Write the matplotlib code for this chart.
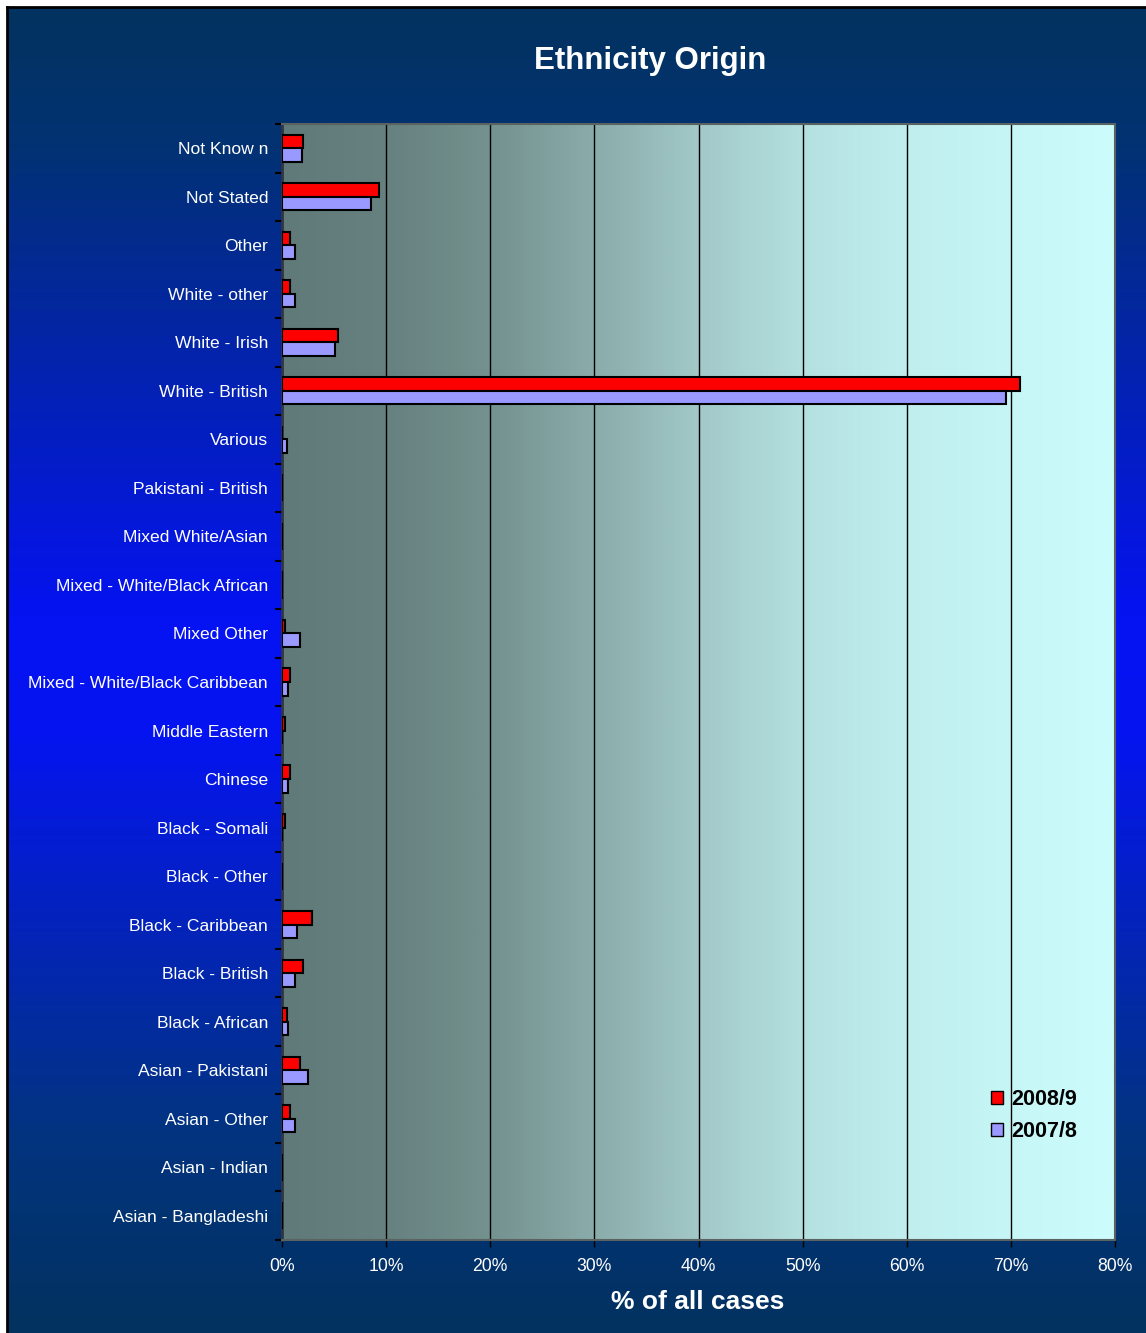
import matplotlib.pyplot as plt
import matplotlib as mpl
import numpy as np
from matplotlib.colors import LinearSegmentedColormap
from matplotlib.patches import Patch

## Data (top to bottom, as in the chart)
categories = ["Not Know n", "Not Stated", "Other", "White - other", "White - Irish",
              "White - British", "Various", "Pakistani - British", "Mixed White/Asian",
              "Mixed - White/Black African", "Mixed Other", "Mixed - White/Black Caribbean",
              "Middle Eastern", "Chinese", "Black - Somali", "Black - Other",
              "Black - Caribbean", "Black - British", "Black - African", "Asian - Pakistani",
              "Asian - Other", "Asian - Indian", "Asian - Bangladeshi"]
values_0809 = [2.05, 9.35, 0.8, 0.8, 5.4, 70.9, 0.0, 0.0, 0.0, 0.0, 0.3, 0.8,
               0.3, 0.8, 0.3, 0.0, 2.85, 2.05, 0.48, 1.76, 0.8, 0.0, 0.0]
values_0708 = [1.9, 8.55, 1.28, 1.28, 5.09, 69.5, 0.45, 0.0, 0.0, 0.0, 1.76, 0.6,
               0.0, 0.6, 0.0, 0.0, 1.4, 1.28, 0.6, 2.53, 1.28, 0.0, 0.0]
series_labels = ["2008/9", "2007/8"]
x_ticks = [0, 10, 20, 30, 40, 50, 60, 70, 80]

## Style
W, H = 1146, 1333
plt.rcParams['font.family'] = ['Liberation Sans', 'DejaVu Sans']
RED = "#ff0000"
LILAC = "#9999ff"

fig = plt.figure(figsize=(W / 100, H / 100), dpi=100, facecolor="white")

# outer background, vertical navy -> blue -> navy
bg = fig.add_axes([7 / W, 0, 1 - 7 / W, 1 - 7 / H], zorder=-2)
bg_cmap = LinearSegmentedColormap.from_list(
    "bg", [(0.0, "#02325f"), (0.1, "#023272"), (0.46, "#0512f2"),
           (0.55, "#0514f0"), (0.85, "#023480"), (1.0, "#02325f")])
bg.imshow(np.linspace(0, 1, 400).reshape(-1, 1), cmap=bg_cmap, aspect="auto",
          extent=[0, 1, 1, 0])
bg.set_xlim(0, 1)
bg.set_ylim(1, 0)
bg.set_xticks([])
bg.set_yticks([])
for side in ["right", "bottom"]:
    bg.spines[side].set_visible(False)
for side in ["left", "top"]:
    bg.spines[side].set_color("black")
    bg.spines[side].set_linewidth(2)

# plot area
ax = fig.add_axes([282 / W, 1 - 1240 / H, (1115 - 282) / W, (1240 - 124) / H])
n = len(categories)
pa_cmap = LinearSegmentedColormap.from_list(
    "pa", [(0.0, "#5f7a78"), (0.125, "#66817f"), (0.25, "#74928f"),
           (0.375, "#8aacaa"), (0.5, "#a2c8c8"), (0.625, "#b4e0e0"),
           (0.75, "#c0eeee"), (0.875, "#c6f6f6"), (1.0, "#ccfcfc")])
ax.imshow(np.linspace(0, 1, 400).reshape(1, -1), cmap=pa_cmap, aspect="auto",
          extent=[0, 80, n - 0.5, -0.5], zorder=0)

y = np.arange(n)
h = 0.28
ax.barh(y - h / 2, values_0809, height=h, color=RED, edgecolor="black",
        linewidth=1.5, zorder=3, label=series_labels[0])
ax.barh(y + h / 2, values_0708, height=h, color=LILAC, edgecolor="black",
        linewidth=1.5, zorder=3, label=series_labels[1])

for xv in x_ticks[1:-1]:
    ax.axvline(xv, color="black", linewidth=1, zorder=1)

ax.set_xlim(0, 80)
ax.set_ylim(n - 0.5, -0.5)
ax.set_xticks(x_ticks)
ax.set_xticklabels([f"{v}%" for v in x_ticks], color="white", fontsize=12.7)
ax.set_yticks(y)
ax.set_yticklabels(categories, color="white", fontsize=12.6)
ax.set_yticks(np.arange(-0.5, n, 1), minor=True)
ax.tick_params(axis="y", which="major", length=0, pad=10)
ax.tick_params(axis="y", which="minor", length=5, width=1.5, color="black")
ax.tick_params(axis="x", length=5, width=1, color="black", pad=8)

for side in ["top", "right", "bottom"]:
    ax.spines[side].set_color("#5a6262")
    ax.spines[side].set_linewidth(1.5)
ax.spines["left"].set_color("#333344")
ax.spines["left"].set_linewidth(2)

# titles
fig.text(650 / W, 1 - 61 / H, "Ethnicity Origin", color="white", fontsize=22.5,
         fontweight="bold", ha="center", va="center")
fig.text(698 / W, 1 - 1302 / H, "% of all cases", color="white", fontsize=19,
         fontweight="bold", ha="center", va="center")

# legend
handles = [Patch(facecolor=RED, edgecolor="black", linewidth=1),
           Patch(facecolor=LILAC, edgecolor="black", linewidth=1)]
leg = fig.legend(handles, series_labels, loc="upper left",
                 bbox_to_anchor=(991 / W, 1 - 1089 / H), frameon=False,
                 prop={"weight": "bold", "size": 15.5}, handlelength=0.55,
                 handleheight=0.55, handletextpad=0.4, labelspacing=0.5,
                 borderpad=0, borderaxespad=0)

fig.savefig("out.png", dpi=100, facecolor="white")
